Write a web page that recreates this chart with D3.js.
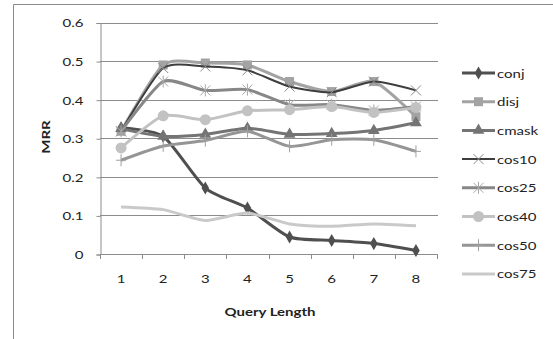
<!DOCTYPE html>
<html><head><meta charset="utf-8">
<script src="https://cdn.jsdelivr.net/npm/d3@7"></script>
<style>body{margin:0;background:#fff}svg{display:block}text{font-family:Lato,"Open Sans",sans-serif;fill:#222}</style>
</head><body><svg id="c" width="553" height="339"></svg>
<script>
const categories = [1,2,3,4,5,6,7,8];
const yTicks = [0,0.1,0.2,0.3,0.4,0.5,0.6];
const seriesNames = ["conj","disj","cmask","cos10","cos25","cos40","cos50","cos75"];
const conj  = [0.327,0.305,0.171,0.119,0.044,0.035,0.027,0.009];
const disj  = [0.318,0.490,0.495,0.490,0.447,0.421,0.447,0.356];
const cmask = [0.325,0.305,0.310,0.326,0.310,0.312,0.320,0.340];
const cos10 = [0.318,0.482,0.486,0.476,0.434,0.419,0.447,0.424];
const cos25 = [0.318,0.447,0.424,0.426,0.387,0.387,0.372,0.382];
const cos40 = [0.275,0.358,0.348,0.371,0.374,0.382,0.367,0.380];
const cos50 = [0.243,0.280,0.294,0.318,0.279,0.296,0.296,0.266];
const cos75 = [0.122,0.115,0.087,0.106,0.078,0.072,0.078,0.073];
const seriesValues = [conj,disj,cmask,cos10,cos25,cos40,cos50,cos75];
const styles = [
  {c:"#4f4f4f",w:3,m:"diamond"},
  {c:"#a3a3a3",w:3,m:"square"},
  {c:"#747474",w:3,m:"triangle"},
  {c:"#3e3e3e",w:2,m:"x"},
  {c:"#878787",w:3,m:"star"},
  {c:"#c2c2c2",w:3,m:"circle"},
  {c:"#959595",w:3,m:"plus"},
  {c:"#c9c9c9",w:3,m:"none"}
];
const SX = 1.25; // horizontal stretch of text seen in the reference
const svg = d3.select("#c");
svg.append("path").attr("d","M13.5,339 V4.5 H553").attr("fill","none").attr("stroke","#8a8a8a").attr("stroke-width",1);
const x = d3.scaleBand().domain(categories).range([100,437]);
const y = d3.scaleLinear().domain([0,0.6]).range([254,22.5]);
svg.append("g").selectAll("line").data(yTicks.slice(1)).join("line")
  .attr("x1",100).attr("x2",438).attr("y1",d=>Math.round(y(d))+0.5).attr("y2",d=>Math.round(y(d))+0.5)
  .attr("stroke","#8c8c8c");
function stretch(sel){
  sel.each(function(){
    const t = d3.select(this);
    const xv = +(t.attr("x")||0);
    t.attr("x", xv/SX).attr("transform",`scale(${SX},1)`);
  });
}
const ya = svg.append("g").attr("transform","translate(100.5,0.5)")
  .call(d3.axisLeft(y).tickValues(yTicks).tickFormat(d=>d===0?"0":d3.format(".1f")(d)).tickSizeOuter(0).tickSize(4).tickPadding(13));
ya.select(".domain").attr("stroke","#8c8c8c");
ya.selectAll("line").attr("stroke","#8c8c8c");
ya.selectAll("text").attr("font-size",12).attr("fill","#222").attr("font-family","Lato,sans-serif").call(stretch);
const xa = svg.append("g").attr("transform","translate(0,254.5)")
  .call(d3.axisBottom(x).tickSize(0).tickPadding(20).tickSizeOuter(0));
xa.select(".domain").attr("stroke","#8c8c8c").attr("d","M100,0H438");
xa.selectAll("text").attr("font-size",12).attr("fill","#222").attr("font-family","Lato,sans-serif").call(stretch);
svg.append("g").selectAll("line").data(d3.range(9)).join("line")
  .attr("x1",d=>Math.round(100+d*x.step())+0.5).attr("x2",d=>Math.round(100+d*x.step())+0.5)
  .attr("y1",254).attr("y2",259).attr("stroke","#8c8c8c");
svg.append("text").attr("transform",`translate(270,316) scale(${SX},1)`).attr("text-anchor","middle").attr("font-size",12).attr("font-weight","bold").text("Query Length");
svg.append("text").attr("transform",`translate(49.5,137) rotate(-90) scale(${SX},1)`).attr("text-anchor","middle").attr("font-size",12).attr("font-weight","bold").text("MRR");
function marker(g, type, cx, cy, col){
  if(type==="diamond") g.append("path").attr("d",d3.symbol(d3.symbolDiamond,50)()).attr("transform",`translate(${cx},${cy})`).attr("fill",col);
  else if(type==="square") g.append("rect").attr("x",cx-4.5).attr("y",cy-4.5).attr("width",9).attr("height",9).attr("fill",col);
  else if(type==="triangle") g.append("path").attr("d",d3.symbol(d3.symbolTriangle,60)()).attr("transform",`translate(${cx},${cy})`).attr("fill",col);
  else if(type==="circle") g.append("circle").attr("cx",cx).attr("cy",cy).attr("r",5.5).attr("fill",col);
  else if(type==="x") g.append("path").attr("d",`M${cx-5},${cy-5}L${cx+5},${cy+5}M${cx-5},${cy+5}L${cx+5},${cy-5}`).attr("stroke","#8a8a8a").attr("stroke-width",1);
  else if(type==="star") g.append("path").attr("d",`M${cx-5},${cy-5}L${cx+5},${cy+5}M${cx-5},${cy+5}L${cx+5},${cy-5}M${cx},${cy-6}L${cx},${cy+6}`).attr("stroke","#a8a8a8").attr("stroke-width",1);
  else if(type==="plus") g.append("path").attr("d",`M${cx},${cy-6}L${cx},${cy+6}M${cx-5},${cy}L${cx+5},${cy}`).attr("stroke","#a0a0a0").attr("stroke-width",1);
}
const line = d3.line().x((d,i)=>x(categories[i])+x.bandwidth()/2).y(d=>y(d)).curve(d3.curveCardinal.tension(0.35));
seriesValues.forEach((vals,si)=>{
  const s = styles[si];
  const g = svg.append("g");
  g.append("path").datum(vals).attr("d",line).attr("fill","none").attr("stroke",s.c).attr("stroke-width",s.w).attr("stroke-linejoin","round");
  vals.forEach((v,i)=>marker(g,s.m,x(categories[i])+x.bandwidth()/2,y(v),s.c));
});
const ly0 = 73, lstep = 28.7;
seriesNames.forEach((n,i)=>{
  const s = styles[i];
  const yy = ly0 + i*lstep;
  const g = svg.append("g");
  g.append("line").attr("x1",462).attr("x2",495).attr("y1",yy).attr("y2",yy).attr("stroke",s.c).attr("stroke-width",s.w);
  marker(g,s.m,478.5,yy,s.c);
  g.append("text").attr("transform",`translate(497,${yy+4.5}) scale(${SX},1)`).attr("font-size",12).text(n);
});
</script></body></html>
